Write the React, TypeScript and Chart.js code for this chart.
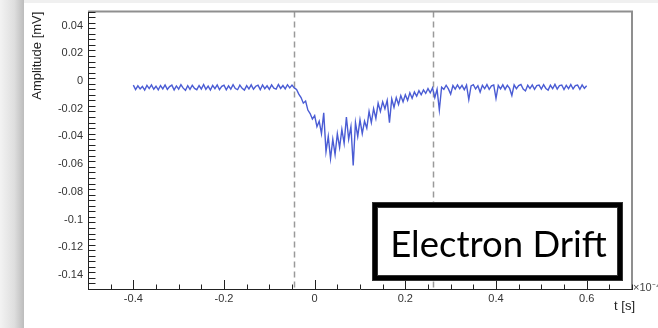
import { useEffect, useRef } from "react";
import { Chart, registerables } from "chart.js";

Chart.register(...registerables);

// time axis in units of 1e-4 s
const T_START = -0.4;
const T_STEP = 0.005;

// amplitude [mV], one value per sample
const AMPLITUDE = [
  -0.0030, -0.0062, -0.0035, -0.0058, -0.0040, -0.0066, -0.0032, -0.0055, -0.0028, -0.0060,
  -0.0038, -0.0064, -0.0033, -0.0057, -0.0029, -0.0061, -0.0041, -0.0030, -0.0065, -0.0036,
  -0.0059, -0.0027, -0.0052, -0.0067, -0.0034, -0.0060, -0.0031, -0.0054, -0.0063, -0.0033,
  -0.0058, -0.0026, -0.0061, -0.0037, -0.0066, -0.0032, -0.0056, -0.0029, -0.0062, -0.0039,
  -0.0031, -0.0064, -0.0035, -0.0059, -0.0027, -0.0055, -0.0063, -0.0030, -0.0053, -0.0066,
  -0.0034, -0.0058, -0.0028, -0.0060, -0.0038, -0.0031, -0.0063, -0.0029, -0.0056, -0.0035,
  -0.0061, -0.0028, -0.0052, -0.0059, -0.0026, -0.0054, -0.0033, -0.0057, -0.0027, -0.0050,
  -0.0030,
  -0.0050, -0.0062, -0.0095, -0.0120, -0.0160, -0.0145, -0.0210, -0.0235, -0.0275, -0.0250,
  -0.0330, -0.0290, -0.0380, -0.0230, -0.0510, -0.0400, -0.0560, -0.0420, -0.0530, -0.0380,
  -0.0480, -0.0350, -0.0450, -0.0260, -0.0420, -0.0330, -0.0610, -0.0300, -0.0400, -0.0280,
  -0.0380, -0.0290, -0.0340, -0.0220, -0.0300, -0.0200, -0.0270, -0.0160, -0.0220, -0.0150,
  -0.0200, -0.0140, -0.0300, -0.0130, -0.0190, -0.0120, -0.0170, -0.0105, -0.0150, -0.0100,
  -0.0140, -0.0085, -0.0125, -0.0080, -0.0110, -0.0070, -0.0100, -0.0065, -0.0090, -0.0055,
  -0.0085, -0.0050, -0.0120, -0.0060, -0.0210, -0.0045,
  -0.0060, -0.0031, -0.0057, -0.0095, -0.0033, -0.0059, -0.0029, -0.0056, -0.0032, -0.0063,
  -0.0030, -0.0135, -0.0036, -0.0027, -0.0058, -0.0034, -0.0080, -0.0031, -0.0056, -0.0026,
  -0.0060, -0.0035, -0.0029, -0.0125, -0.0032, -0.0057, -0.0028, -0.0061, -0.0031, -0.0054,
  -0.0105, -0.0029, -0.0056, -0.0034, -0.0026, -0.0059, -0.0072, -0.0031, -0.0055, -0.0028,
  -0.0061, -0.0034, -0.0030, -0.0058, -0.0027, -0.0054, -0.0066, -0.0031, -0.0056, -0.0025,
  -0.0059, -0.0033, -0.0029, -0.0062, -0.0032, -0.0055, -0.0026, -0.0058, -0.0034, -0.0030,
  -0.0060, -0.0028, -0.0053, -0.0035,
];

const X_TICKS = [-0.4, -0.2, 0, 0.2, 0.4, 0.6];
const Y_TICKS = [-0.14, -0.12, -0.1, -0.08, -0.06, -0.04, -0.02, 0, 0.02, 0.04];
const X_RANGE = [-0.5, 0.7];
const Y_RANGE = [-0.15, 0.05];
const X_MINOR_STEP = 0.05;
const Y_MINOR_STEP = 0.004;
const MARKERS = [-0.045, 0.26];

const X_TITLE = "t [s]";
const X_EXPONENT = "\u00d710\u207b\u2074";
const Y_TITLE = "Amplitude [mV]";
const LABEL_TEXT = "Electron Drift";

const AXIS_FONT = "Liberation Sans";

const fmt = (v: number) => String(Math.round(v * 100) / 100);

const decor = {
  id: "decor",
  beforeDraw(chart: any) {
    const { ctx, width, height } = chart;
    ctx.save();
    ctx.fillStyle = "#f0f0f0";
    ctx.fillRect(0, 0, width, height);
    ctx.fillStyle = "#ffffff";
    ctx.fillRect(24, 3, width - 24, height - 3);
    const g = ctx.createLinearGradient(0, 0, 24, 0);
    g.addColorStop(0, "#f3f3f3");
    g.addColorStop(0.6, "#dedede");
    g.addColorStop(1, "#bcbcbc");
    ctx.fillStyle = g;
    ctx.fillRect(0, 0, 24, height);
    ctx.restore();
  },
  beforeDatasetsDraw(chart: any) {
    const { ctx, chartArea, scales } = chart;
    ctx.save();
    ctx.strokeStyle = "#9a9a9a";
    ctx.lineWidth = 1.5;
    ctx.setLineDash([6, 4]);
    for (const m of MARKERS) {
      const px = Math.round(scales.x.getPixelForValue(m)) + 0.5;
      ctx.beginPath();
      ctx.moveTo(px, chartArea.top);
      ctx.lineTo(px, chartArea.bottom);
      ctx.stroke();
    }
    ctx.restore();
  },
  afterDraw(chart: any) {
    const { ctx, chartArea, scales } = chart;
    const { left, right, top, bottom } = chartArea;
    ctx.save();
    // frame top / right
    ctx.strokeStyle = "#8f8f8f";
    ctx.lineWidth = 2;
    ctx.beginPath();
    ctx.moveTo(left, top);
    ctx.lineTo(right, top);
    ctx.lineTo(right, bottom);
    ctx.stroke();

    // tick marks (inside)
    ctx.strokeStyle = "#222";
    ctx.lineWidth = 1;
    ctx.beginPath();
    for (let v = X_RANGE[0]; v <= X_RANGE[1] + 1e-9; v += X_MINOR_STEP) {
      const px = Math.round(scales.x.getPixelForValue(v)) + 0.5;
      const major = X_TICKS.some((t) => Math.abs(t - v) < 1e-6);
      ctx.moveTo(px, bottom);
      ctx.lineTo(px, bottom - (major ? 9 : 4.5));
    }
    for (let v = Y_RANGE[0]; v <= Y_RANGE[1] + 1e-9; v += Y_MINOR_STEP) {
      const py = Math.round(scales.y.getPixelForValue(v)) + 0.5;
      const major = Y_TICKS.some((t) => Math.abs(t - v) < 1e-6);
      ctx.moveTo(left, py);
      ctx.lineTo(left + (major ? 15 : 7.5), py);
    }
    ctx.stroke();

    // y title (rotated, right-aligned to top)
    ctx.fillStyle = "#222";
    ctx.font = `13px "${AXIS_FONT}"`;
    ctx.save();
    ctx.translate(41, top);
    ctx.rotate(-Math.PI / 2);
    ctx.textAlign = "right";
    ctx.textBaseline = "alphabetic";
    ctx.fillText(Y_TITLE, 0, 0);
    ctx.restore();

    // x title
    ctx.textAlign = "right";
    ctx.textBaseline = "alphabetic";
    ctx.fillText(X_TITLE, 635, 310);

    // exponent
    ctx.font = `11px "${AXIS_FONT}"`;
    ctx.textAlign = "left";
    ctx.textBaseline = "middle";
    ctx.fillStyle = "#444";
    ctx.fillText(X_EXPONENT, right + 1, bottom - 1);

    // annotation box
    const bx = 375, by = 205, bw = 245, bh = 73;
    ctx.fillStyle = "#ffffff";
    ctx.fillRect(bx, by, bw, bh);
    ctx.strokeStyle = "#000";
    ctx.lineWidth = 4.5;
    ctx.strokeRect(bx, by, bw, bh);
    ctx.lineWidth = 1;
    ctx.strokeStyle = "#333";
    ctx.strokeRect(bx - 2.5, by - 2.5, bw + 5, bh + 5);
    ctx.strokeRect(bx + 2.5, by + 2.5, bw - 5, bh - 5);
    ctx.fillStyle = "#000";
    ctx.font = `36.5px Lato`;
    ctx.textAlign = "center";
    ctx.textBaseline = "alphabetic";
    ctx.fillText(LABEL_TEXT, bx + bw / 2 + 1, 257);
    ctx.restore();
  },
};

export default function App() {
  const ref = useRef<HTMLCanvasElement | null>(null);
  useEffect(() => {
    if (!ref.current) return;
    const points = AMPLITUDE.map((y, i) => ({ x: T_START + i * T_STEP, y }));
    const chart = new Chart(ref.current, {
      type: "line",
      data: {
        datasets: [
          {
            data: points,
            borderColor: "#4a5cd4",
            borderWidth: 1.4,
            pointRadius: 0,
            tension: 0,
            fill: false,
          },
        ],
      },
      options: {
        animation: false,
        responsive: false,
        devicePixelRatio: 1,
        layout: { padding: { top: 10, right: 26, left: 0, bottom: 0 } },
        plugins: { legend: { display: false }, tooltip: { enabled: false } },
        scales: {
          x: {
            type: "linear",
            min: X_RANGE[0],
            max: X_RANGE[1],
            afterFit: (s: any) => {
              s.height = 39;
            },
            afterBuildTicks: (s: any) => {
              s.ticks = X_TICKS.map((v) => ({ value: v }));
            },
            grid: { display: false, drawTicks: false },
            border: { display: true, color: "#222", width: 1 },
            ticks: {
              padding: 3,
              autoSkip: false,
              maxRotation: 0,
              color: "#333",
              font: { family: AXIS_FONT, size: 11 },
              callback: (v: any) => fmt(Number(v)),
            },
          },
          y: {
            type: "linear",
            min: Y_RANGE[0],
            max: Y_RANGE[1],
            afterFit: (s: any) => {
              s.width = 88;
            },
            afterBuildTicks: (s: any) => {
              s.ticks = Y_TICKS.map((v) => ({ value: v }));
            },
            grid: { display: false, drawTicks: false },
            border: { display: true, color: "#222", width: 1 },
            ticks: {
              padding: 5,
              autoSkip: false,
              color: "#333",
              font: { family: AXIS_FONT, size: 11 },
              callback: (v: any) => fmt(Number(v)),
            },
          },
        },
      },
      plugins: [decor],
    });
    return () => chart.destroy();
  }, []);
  return (
    <div style={{ position: "absolute", left: 0, top: 0, width: 658, height: 328 }}>
      <canvas ref={ref} width={658} height={328} style={{ display: "block" }} />
    </div>
  );
}
